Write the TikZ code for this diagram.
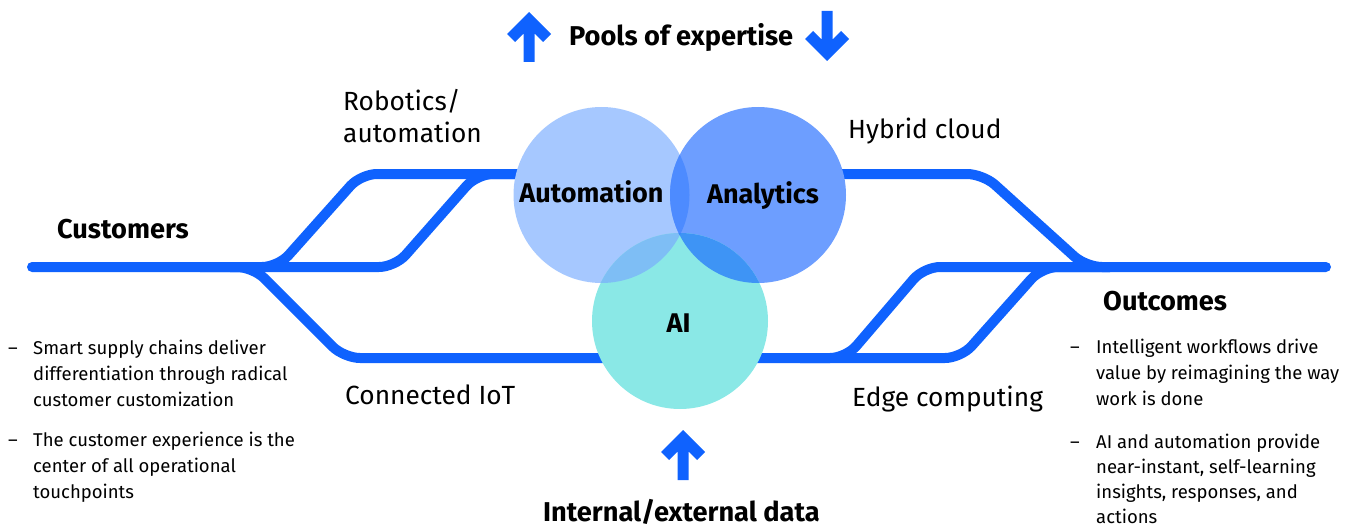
\documentclass[tikz,border=0pt]{standalone}
\usepackage{fontspec}
\setmainfont{Fira Sans}
\definecolor{trackblue}{HTML}{0F62FE}
\definecolor{autofill}{HTML}{A6C8FF}
\definecolor{anafill}{HTML}{6D9EFF}
\definecolor{aifill}{HTML}{8AE8E6}
\definecolor{autoana}{HTML}{4D8BFF}
\definecolor{autoai}{HTML}{7EBEF5}
\definecolor{anaai}{HTML}{3E94F5}
\definecolor{allthree}{HTML}{3A86F8}
\begin{document}
\begin{tikzpicture}[x=1pt,y=-1pt,
  track/.style={line width=10pt, draw=trackblue, rounded corners=16pt},
  trackend/.style={track, line cap=round},
  hdr/.style={font=\bfseries\fontsize{27.2}{32}\selectfont, inner sep=0pt, anchor=base west},
  lbl/.style={font=\fontsize{26.3}{32}\selectfont, inner sep=0pt, anchor=base west, align=left},
  bul/.style={font=\fontsize{18.5}{26}\selectfont, inner sep=0pt, anchor=base west, align=left},
  circlbl/.style={font=\bfseries\fontsize{27}{30}\selectfont, inner sep=0pt, anchor=base},
  venn/.style={circle, minimum size=176pt, inner sep=0pt, draw=none},
  arrowicon/.pic={\fill[trackblue] (0,0) -- (22,22) -- (14,30) -- (5.5,21.5) -- (5.5,50)
      -- (-5.5,50) -- (-5.5,21.5) -- (-14,30) -- (-22,22) -- cycle;}]
\useasboundingbox (0,0) rectangle (1353,527);

% ---- track lines, left side
\draw[trackend] (32,267) -- (395,267) -- (477,174) -- (560,174);
\draw[track] (230,267) -- (278,267) -- (361,174) -- (560,174);
\draw[track] (200,267) -- (253,267) -- (344,358) -- (640,358);

% ---- track lines, right side
\draw[trackend] (800,174) -- (983,174) -- (1086,267) -- (1326,267);
\draw[track] (720,358) -- (961,358) -- (1042,267) -- (1110,267);
\draw[track] (800,358) -- (846,358) -- (924,267) -- (1110,267);

% ---- three overlapping circles
\node[venn, fill=autofill] (auto) at (601.5,195) {};
\node[venn, fill=anafill] (ana) at (758,195) {};
\node[venn, fill=aifill] (ai) at (680,321) {};
\begin{scope}
  \clip (601.5,195) circle (88pt);
  \fill[autoana] (758,195) circle (88pt);
\end{scope}
\begin{scope}
  \clip (601.5,195) circle (88pt);
  \fill[autoai] (680,321) circle (88pt);
\end{scope}
\begin{scope}
  \clip (758,195) circle (88pt);
  \fill[anaai] (680,321) circle (88pt);
\end{scope}
\begin{scope}
  \clip (601.5,195) circle (88pt);
  \clip (758,195) circle (88pt);
  \fill[allthree] (680,321) circle (88pt);
\end{scope}
\node[circlbl] (autotxt) at (591.5,202) {Automation};
\node[circlbl] (anatxt) at (763,203) {Analytics};
\node[circlbl] (aitxt) at (678.5,332) {AI};

% ---- arrows and headings
\pic at (529,12) {arrowicon};
\pic[rotate=180] at (827,61) {arrowicon};
\pic at (683,430) {arrowicon};
\node[hdr] (pools) at (569,46) {Pools of expertise};
\node[hdr] (data) at (543,521) {Internal/external data};
\node[hdr] (cust) at (57,238) {Customers};
\node[hdr] (outc) at (1103,310) {Outcomes};

% ---- track labels
\node[lbl] (robot) at (343,142) {Robotics/\\automation};
\node[lbl] (hybrid) at (848,139) {Hybrid cloud};
\node[lbl] (iot) at (345,404) {Connected IoT};
\node[lbl] (edge) at (852,406) {Edge computing};

% ---- bullet texts
\node[bul] (dl1) at (8,354) {\textendash};
\node[bul] (bl1) at (33,406) {Smart supply chains deliver\\differentiation through radical\\customer customization};
\node[bul] (dl2) at (8,446) {\textendash};
\node[bul] (bl2) at (33,498) {The customer experience is the\\center of all operational\\touchpoints};
\node[bul] (dr1) at (1070,353) {\textendash};
\node[bul] (br1) at (1096,405) {Intelligent workflows drive\\value by reimagining the way\\work is done};
\node[bul] (dr2) at (1070,448) {\textendash};
\node[bul, font=\fontsize{18.5}{25}\selectfont] (br2) at (1096,523) {AI and automation provide\\near-instant, self-learning\\insights, responses, and\\actions};
\end{tikzpicture}
\end{document}
